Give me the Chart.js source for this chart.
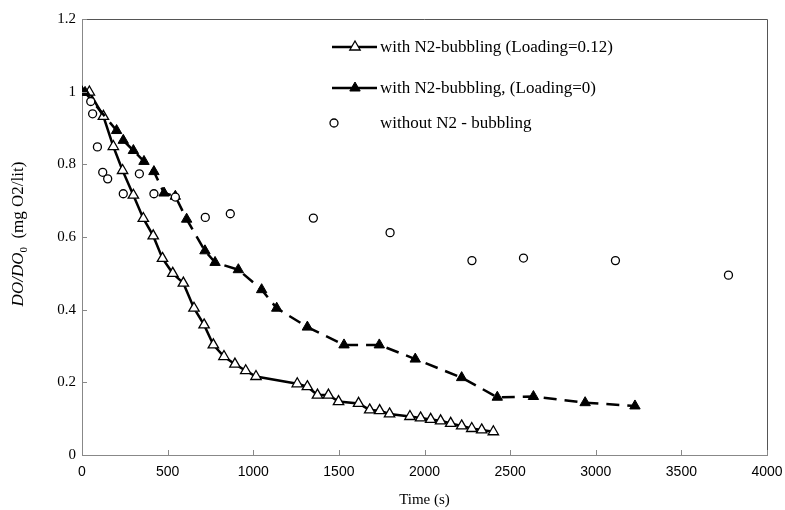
<!DOCTYPE html>
<html>
<head>
<meta charset="utf-8">
<script src="https://cdn.jsdelivr.net/npm/chart.js@4/dist/chart.umd.min.js"></script>
<style>
  body { margin: 0; background: #fff; }
  canvas { display: block; }
</style>
</head>
<body>
<canvas id="chart" width="785" height="510"></canvas>
<script>
// with N2-bubbling (Loading=0.12)
const loadedTime = [43, 125, 183, 237, 300, 358, 416, 470, 530, 592, 654, 713, 767, 829, 893, 956, 1016,
  1257, 1316, 1375, 1439, 1498, 1615, 1680, 1738, 1796, 1915, 1977, 2036, 2094, 2153, 2217, 2276, 2334, 2402];
const loadedDO = [0.999, 0.932, 0.849, 0.783, 0.715, 0.651, 0.603, 0.541, 0.500, 0.473, 0.404, 0.358, 0.303,
  0.271, 0.250, 0.232, 0.216, 0.196, 0.188, 0.165, 0.165, 0.147, 0.142, 0.124, 0.122, 0.113, 0.106, 0.102,
  0.098, 0.094, 0.087, 0.080, 0.073, 0.069, 0.064];

// with N2-bubbling, (Loading=0)
const emptyTime = [0, 18, 202, 241, 300, 362, 420, 479, 545, 611, 718, 777, 913, 1049, 1137, 1316, 1530,
  1736, 1946, 2217, 2425, 2636, 2938, 3229];
const emptyDO = [1.0, 0.998, 0.893, 0.866, 0.838, 0.808, 0.780, 0.721, 0.712, 0.649, 0.562, 0.530, 0.510,
  0.455, 0.404, 0.352, 0.303, 0.303, 0.264, 0.213, 0.159, 0.161, 0.144, 0.135];

// without N2 - bubbling
const plainTime = [51, 62, 90, 121, 150, 241, 335, 420, 545, 720, 866, 1351, 1799, 2277, 2578, 3115, 3775];
const plainDO = [0.973, 0.939, 0.848, 0.778, 0.760, 0.719, 0.774, 0.719, 0.710, 0.654, 0.664, 0.652,
  0.612, 0.535, 0.542, 0.535, 0.495];

const seriesNames = ['with N2-bubbling (Loading=0.12)', 'with N2-bubbling, (Loading=0)', 'without N2 - bubbling'];
const xTickValues = [0, 500, 1000, 1500, 2000, 2500, 3000, 3500, 4000];
const xTickLabels = ['0', '500', '1000', '1500', '2000', '2500', '3000', '3500', '4000'];
const yTickValues = [0, 0.2, 0.4, 0.6, 0.8, 1.0, 1.2];
const yTickLabels = ['0', '0.2', '0.4', '0.6', '0.8', '1', '1.2'];

const toPoints = (xs, ys) => xs.map((t, i) => ({ x: t, y: ys[i] }));

const SERIF = "'Liberation Serif', 'Times New Roman', serif";
const SANS = "'Liberation Sans', Arial, sans-serif";

const decor = {
  id: 'decor',
  afterDraw(chart) {
    const { ctx, chartArea: a, scales: { x, y } } = chart;
    ctx.save();

    // top and right frame
    ctx.strokeStyle = '#555';
    ctx.lineWidth = 1;
    ctx.beginPath();
    ctx.moveTo(a.left, a.top + 0.5);
    ctx.lineTo(a.right + 0.5, a.top + 0.5);
    ctx.lineTo(a.right + 0.5, a.bottom);
    ctx.stroke();

    // tick marks pointing inward
    ctx.strokeStyle = '#888';
    ctx.beginPath();
    xTickValues.forEach(v => {
      const px = Math.round(x.getPixelForValue(v)) + 0.5;
      ctx.moveTo(px, a.bottom);
      ctx.lineTo(px, a.bottom - 5);
    });
    yTickValues.forEach(v => {
      const py = Math.round(y.getPixelForValue(v)) + 0.5;
      ctx.moveTo(a.left, py);
      ctx.lineTo(a.left + 5, py);
    });
    ctx.stroke();

    // x axis title
    ctx.fillStyle = '#000';
    ctx.font = '15px ' + SERIF;
    ctx.textAlign = 'center';
    ctx.textBaseline = 'middle';
    ctx.fillText('Time (s)', (a.left + a.right) / 2, 500);

    // y axis title with subscript
    ctx.save();
    ctx.translate(17, 234);
    ctx.rotate(-Math.PI / 2);
    ctx.textBaseline = 'alphabetic';
    ctx.textAlign = 'left';
    const p1 = 'DO/DO', p2 = '0', p3 = '  (mg O2/lit)';
    ctx.font = 'italic 17px ' + SERIF;
    const w1 = ctx.measureText(p1).width;
    ctx.font = '11px ' + SERIF;
    const w2 = ctx.measureText(p2).width;
    ctx.font = '17px ' + SERIF;
    const w3 = ctx.measureText(p3).width;
    let sx = -(w1 + w2 + w3) / 2;
    ctx.font = 'italic 17px ' + SERIF;
    ctx.fillText(p1, sx, 6);
    sx += w1;
    ctx.font = '11px ' + SERIF;
    ctx.fillText(p2, sx, 10);
    sx += w2;
    ctx.font = '17px ' + SERIF;
    ctx.fillText(p3, sx, 6);
    ctx.restore();

    // legend
    const rows = [47, 88, 123];
    const ds = chart.data.datasets;
    ctx.font = '17px ' + SERIF;
    ctx.textAlign = 'left';
    ctx.textBaseline = 'middle';
    rows.forEach((ry, i) => {
      const d = ds[i];
      if (i < 2) {
        ctx.strokeStyle = '#000';
        ctx.lineWidth = 2.5;
        ctx.setLineDash([]);
        ctx.beginPath();
        ctx.moveTo(332, ry);
        ctx.lineTo(377, ry);
        ctx.stroke();
      }
      ctx.fillStyle = d.pointBackgroundColor;
      ctx.strokeStyle = d.pointBorderColor;
      ctx.lineWidth = d.pointBorderWidth;
      Chart.helpers.drawPoint(ctx, {
        pointStyle: d.pointStyle, radius: d.pointRadius, borderWidth: d.pointBorderWidth, rotation: 0
      }, i < 2 ? 355 : 334, ry);
      ctx.fillStyle = '#000';
      ctx.fillText(seriesNames[i], 380, ry + 1);
    });

    ctx.restore();
  }
};

new Chart(document.getElementById('chart'), {
  type: 'scatter',
  data: {
    datasets: [
      {
        label: seriesNames[0],
        data: toPoints(loadedTime, loadedDO),
        showLine: true,
        borderColor: '#000',
        borderWidth: 2.5,
        pointStyle: 'triangle',
        pointRadius: 6,
        pointBackgroundColor: '#fff',
        pointBorderColor: '#000',
        pointBorderWidth: 1.3,
        order: 3
      },
      {
        label: seriesNames[1],
        data: toPoints(emptyTime, emptyDO),
        showLine: true,
        borderColor: '#000',
        borderWidth: 2.5,
        borderDash: [13, 8],
        pointStyle: 'triangle',
        pointRadius: 6,
        pointBackgroundColor: '#000',
        pointBorderColor: '#000',
        pointBorderWidth: 1,
        order: 2
      },
      {
        label: seriesNames[2],
        data: toPoints(plainTime, plainDO),
        showLine: false,
        pointStyle: 'circle',
        pointRadius: 4,
        pointBackgroundColor: '#fff',
        pointBorderColor: '#000',
        pointBorderWidth: 1.3,
        order: 1
      }
    ]
  },
  options: {
    responsive: false,
    animation: false,
    layout: { padding: { top: 19, right: 18, left: 0, bottom: 0 } },
    plugins: {
      legend: { display: false },
      tooltip: { enabled: false }
    },
    scales: {
      x: {
        type: 'linear',
        min: 0,
        max: 4000,
        afterFit: s => { s.height = 55; s.paddingLeft = 0; s.paddingRight = 0; },
        afterBuildTicks: s => { s.ticks = xTickValues.map(v => ({ value: v })); },
        grid: { display: false, drawTicks: false },
        border: { display: true, color: '#888', width: 1 },
        ticks: {
          padding: 9,
          color: '#000',
          font: { family: SANS, size: 14 },
          maxRotation: 0,
          callback: (v, i) => xTickLabels[i]
        }
      },
      y: {
        type: 'linear',
        min: 0,
        max: 1.2,
        afterFit: s => { s.width = 82; s.paddingTop = 0; s.paddingBottom = 0; },
        afterBuildTicks: s => { s.ticks = yTickValues.map(v => ({ value: v })); },
        grid: { display: false, drawTicks: false },
        border: { display: true, color: '#888', width: 1 },
        ticks: {
          padding: 6,
          color: '#000',
          font: { family: SERIF, size: 15 },
          callback: (v, i) => yTickLabels[i]
        }
      }
    }
  },
  plugins: [decor]
});
</script>
</body>
</html>
